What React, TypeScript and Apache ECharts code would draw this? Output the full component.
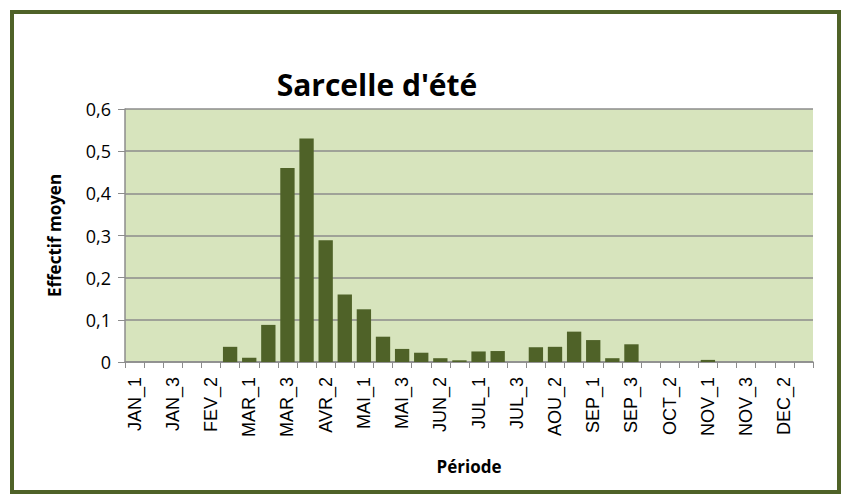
import React, { useEffect, useRef } from "react";
import * as echarts from "echarts";

const months = ["JAN", "FEV", "MAR", "AVR", "MAI", "JUN", "JUL", "AOU", "SEP", "OCT", "NOV", "DEC"];
const categories: string[] = [];
months.forEach((m) => {
  for (let i = 1; i <= 3; i++) categories.push(m + "_" + i);
});

const values = [
  0, 0, 0,
  0, 0, 0.036,
  0.01, 0.088, 0.46,
  0.53, 0.289, 0.16,
  0.125, 0.06, 0.031,
  0.022, 0.009, 0.004,
  0.025, 0.026, 0,
  0.035, 0.036, 0.072,
  0.052, 0.009, 0.042,
  0, 0, 0,
  0.005, 0, 0,
  0, 0, 0,
];

const yTicks = [0, 0.1, 0.2, 0.3, 0.4, 0.5, 0.6];

export default function App() {
  const ref = useRef<HTMLDivElement>(null);
  useEffect(() => {
    if (!ref.current) return;
    const chart = echarts.init(ref.current, undefined, { renderer: "svg" });
    chart.setOption({
      animation: false,
      backgroundColor: "#ffffff",
      title: {
        text: "Sarcelle d'été",
        left: 372,
        textAlign: "center",
        top: 64,
        textStyle: {
          fontFamily: "Open Sans, Noto Sans, sans-serif",
          fontWeight: "bold",
          fontSize: 30,
          color: "#000",
        },
      },
      graphic: [
        {
          type: "rect",
          shape: { x: 12, y: 12, width: 827, height: 480 },
          style: { fill: "none", stroke: "#4F6228", lineWidth: 4 },
          z: 100,
        },
      ],
      grid: { left: 125, right: 34, top: 109, bottom: 138, backgroundColor: "#D7E4BD", show: true, borderWidth: 0 },
      xAxis: {
        type: "category",
        data: categories,
        name: "Période",
        nameLocation: "middle",
        nameGap: 96,
        nameTextStyle: { fontFamily: "Open Sans, Noto Sans, sans-serif", fontWeight: "bold", fontSize: 17, color: "#000" },
        axisLine: { lineStyle: { color: "#8C8C8C", width: 1.5 } },
        axisTick: { show: true, interval: 0, length: 6, lineStyle: { color: "#8C8C8C" } },
        axisLabel: {
          interval: 1,
          rotate: 90,
          fontFamily: "Liberation Sans, Arial, sans-serif",
          fontSize: 18,
          color: "#000",
          margin: 15,
        },
      },
      yAxis: {
        type: "value",
        min: 0,
        max: 0.6,
        interval: 0.1,
        name: "Effectif moyen",
        nameLocation: "middle",
        nameGap: 62,
        nameRotate: 90,
        nameTextStyle: { fontFamily: "Open Sans, Noto Sans, sans-serif", fontWeight: "bold", fontSize: 17, color: "#000" },
        axisLine: { show: true, lineStyle: { color: "#8C8C8C", width: 1.5 } },
        axisTick: { show: true, length: 7, lineStyle: { color: "#8C8C8C" } },
        splitLine: { lineStyle: { color: "#8C8C8C", width: 1.5 } },
        axisLabel: {
          fontFamily: "Open Sans, Noto Sans, sans-serif",
          fontSize: 18,
          color: "#000",
          margin: 14,
          formatter: (v: number) => {
            const t = yTicks.find((x) => Math.abs(x - v) < 1e-9);
            return (t === undefined ? v : t).toString().replace(".", ",");
          },
        },
      },
      series: [
        {
          type: "bar",
          data: values,
          barCategoryGap: "25%",
          itemStyle: { color: "#4F6228", borderWidth: 0 },
        },
      ],
    });
    return () => chart.dispose();
  }, []);
  return <div ref={ref} style={{ position: "fixed", left: 0, top: 0, width: 847, height: 500 }} />;
}
